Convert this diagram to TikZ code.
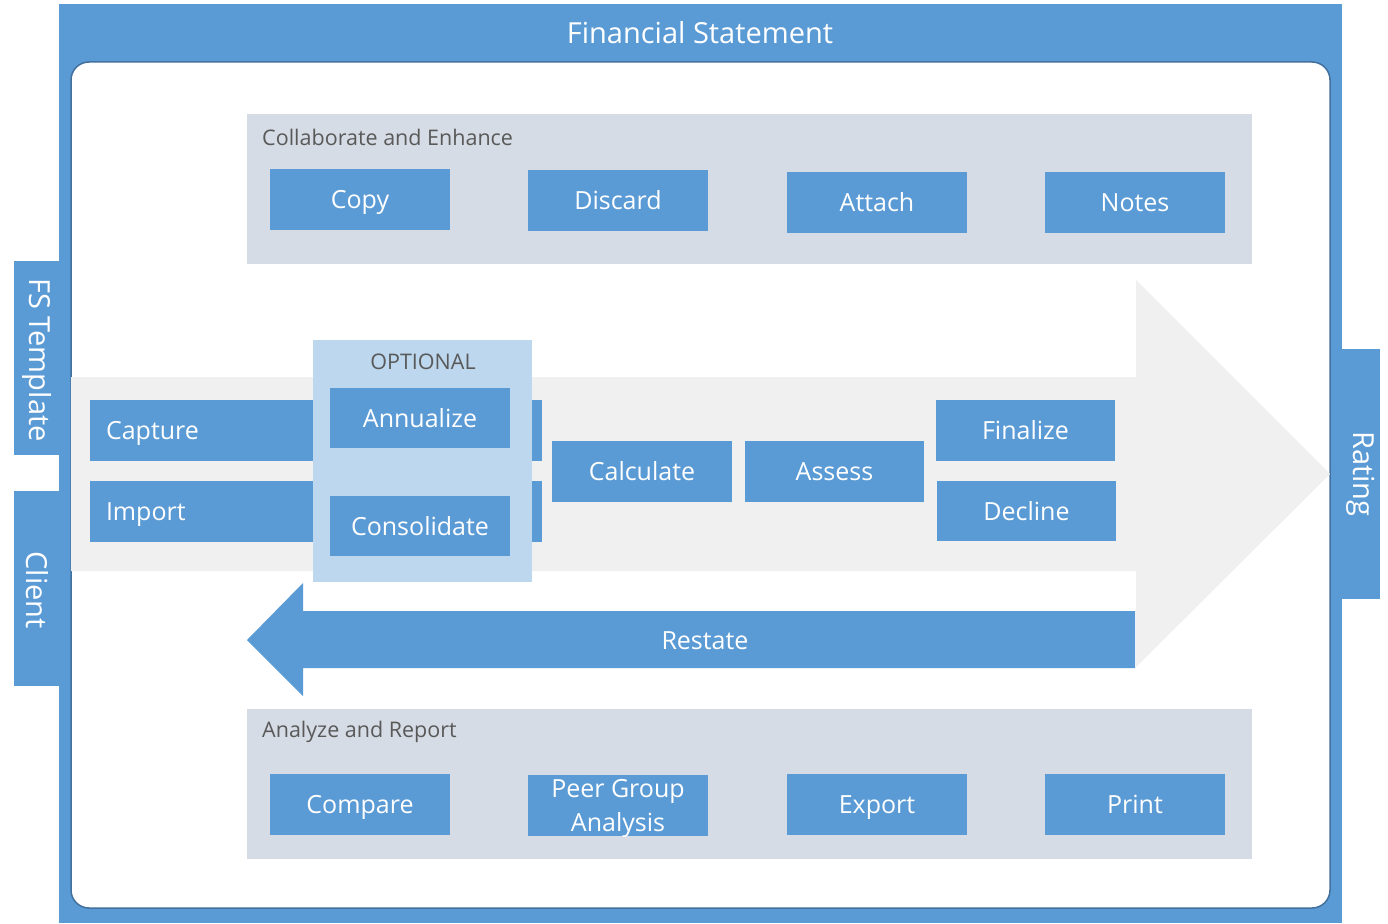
\documentclass[tikz,border=0pt]{standalone}
\usepackage{fontspec}
\setmainfont{Open Sans}
\definecolor{fsblue}{HTML}{5B9BD5}
\definecolor{fsdark}{HTML}{41719C}
\definecolor{fspanel}{HTML}{D6DCE5}
\definecolor{fsgrey}{HTML}{F0F0F0}
\definecolor{fsopt}{HTML}{BDD7EE}
\definecolor{fstext}{HTML}{595959}
\tikzset{
  box/.style={fill=fsblue, text=white, inner sep=0pt, minimum width=180pt, minimum height=61pt,
    font=\fontsize{25}{30}\selectfont, align=center, text height=18pt, text depth=0pt},
  widebox/.style={box, minimum width=452pt, text width=420pt, align=left},
  panel/.style={fill=fspanel, inner sep=0pt},
  paneltitle/.style={text=fstext, inner sep=0pt, anchor=west, font=\fontsize{21.5}{25}\selectfont},
  tab/.style={fill=fsblue, inner sep=0pt},
  tabtext/.style={text=white, inner sep=0pt, rotate=-90, font=\fontsize{29}{34}\selectfont},
}
\begin{document}
\begin{tikzpicture}[x=1pt,y=-1pt]
\useasboundingbox (0,0) rectangle (1388,923);
% outer frame
\node[tab, minimum width=1283pt, minimum height=919pt, anchor=north west] (frame) at (59,4) {};
\node[text=white, inner sep=0pt, font=\fontsize{29}{34}\selectfont] (title) at (700,33) {Financial Statement};
% side tabs
\node[tab, minimum width=51pt, minimum height=194pt, anchor=north west] (fstab) at (14,261) {};
\node[tabtext] (fstext) at (37,360) {FS Template};
\node[tab, minimum width=51pt, minimum height=195pt, anchor=north west] (cltab) at (14,491) {};
\node[tabtext] (cltext) at (37,590) {Client};
\node[tab, minimum width=38pt, minimum height=250pt, anchor=north west] (rttab) at (1342,349) {};
\node[tabtext] (rttext) at (1361,474) {Rating};
% inner white area
\draw[fill=white, draw=fsdark, line width=1.5pt, rounded corners=18pt] (71,62) rectangle (1330,908);
% big process arrow
\fill[fsgrey] (71,377) -- (1136,377) -- (1136,280) -- (1330,474) -- (1136,667) -- (1136,571) -- (71,571) -- cycle;
% collaborate panel
\node[panel, minimum width=1005pt, minimum height=150pt, anchor=north west] (collab) at (247,114) {};
\node[paneltitle] (collabt) at (262,137) {Collaborate and Enhance};
\node[box] (copy) at (360,199.5) {Copy};
\node[box] (discard) at (618,200.5) {Discard};
\node[box] (attach) at (877,202.5) {Attach};
\node[box] (notes) at (1135,202.5) {Notes};
% analyze panel
\node[panel, minimum width=1005pt, minimum height=150pt, anchor=north west] (analyze) at (247,709) {};
\node[paneltitle] (analyzet) at (262,732) {Analyze and Report};
\node[box] (compare) at (360,804.5) {Compare};
\node[box, font=\fontsize{25}{34}\selectfont, text height=52pt] (peer) at (618,805.5) {Peer Group\\Analysis};
\node[box] (export) at (877,804.5) {Export};
\node[box] (print) at (1135,804.5) {Print};
% main flow
\node[widebox] (capture) at (316,430.5) {Capture};
\node[widebox] (import) at (316,511) {Import};
\node[panel, fill=fsopt, minimum width=219pt, minimum height=242pt, anchor=north west] (optional) at (313,340) {};
\node[text=fstext, inner sep=0pt, font=\fontsize{21.5}{25}\selectfont] (optt) at (423,362) {OPTIONAL};
\node[box, minimum height=60pt] (annualize) at (420,418) {Annualize};
\node[box, minimum height=60pt] (consolidate) at (420,526) {Consolidate};
\node[box] (calculate) at (642,471.5) {Calculate};
\node[box, minimum width=179pt] (assess) at (834.5,471.5) {Assess};
\node[box, minimum width=179pt] (finalize) at (1025.5,430.5) {Finalize};
\node[box, minimum width=179pt, minimum height=60pt] (decline) at (1026.5,511) {Decline};
% restate arrow
\fill[fsblue] (247,640) -- (303,583) -- (303,611) -- (1135,611) -- (1135,668) -- (303,668) -- (303,696) -- cycle;
\node[text=white, inner sep=0pt, font=\fontsize{25}{30}\selectfont, text height=18pt, text depth=0pt] (restate) at (705,640) {Restate};
\end{tikzpicture}
\end{document}
